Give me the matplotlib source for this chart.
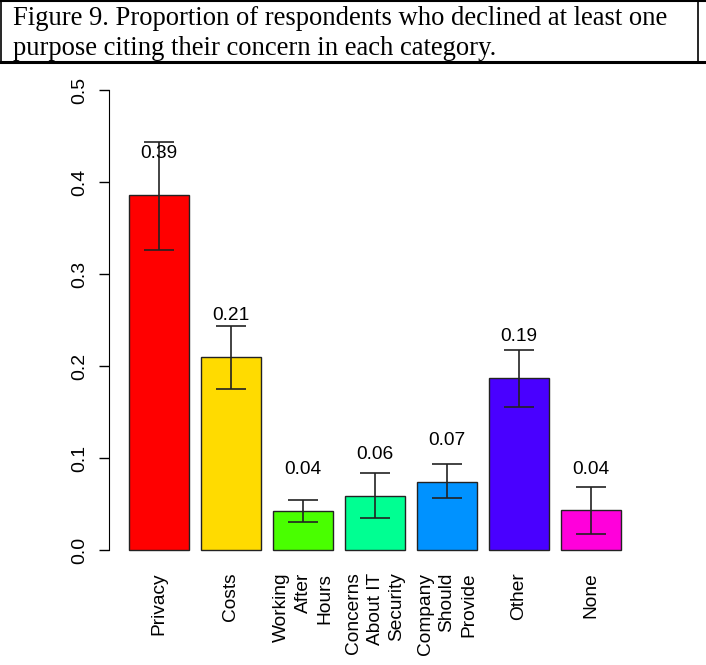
import numpy as np
import matplotlib.pyplot as plt
from matplotlib.lines import Line2D

# proportions and error bar limits per concern
categories = ["Privacy", "Costs", "Working\nAfter\nHours", "Concerns\nAbout IT\nSecurity",
              "Company\nShould\nProvide", "Other", "None"]
props = [0.386, 0.210, 0.042, 0.059, 0.074, 0.187, 0.043]
err_lo = [0.326, 0.175, 0.030, 0.035, 0.056, 0.155, 0.017]
err_hi = [0.444, 0.243, 0.054, 0.084, 0.094, 0.217, 0.068]
colors = ["#FF0000", "#FFDB00", "#49FF00", "#00FF92", "#0092FF", "#4900FF", "#FF00DB"]
title = ("Figure 9. Proportion of respondents who declined at least one\n"
         "purpose citing their concern in each category.")

W, H = 706, 665
fig = plt.figure(figsize=(W / 100, H / 100), dpi=100)

# caption box at the top
fig.text(13 / W, 1 - 33.5 / H, title, family="Liberation Serif", fontsize=19.2,
         va="center", ha="left", linespacing=1.28)
fig.add_artist(Line2D([0, 1], [1 - 1 / H, 1 - 1 / H], color="black", lw=1.5))
fig.add_artist(Line2D([0, 1], [1 - 62 / H, 1 - 62 / H], color="black", lw=2.2))
fig.add_artist(Line2D([0.7 / W, 0.7 / W], [1 - 62 / H, 1], color="black", lw=1.2))
fig.add_artist(Line2D([698 / W, 698 / W], [1 - 62 / H, 1], color="black", lw=1.2))

# plot region (R style barplot layout)
left, right, top, bottom = 109.3, 640.7, 71.6, 568.4
ax = fig.add_axes([left / W, 1 - bottom / H, (right - left) / W, (bottom - top) / H])

x = 0.7 + 1.2 * np.arange(len(props))
ax.bar(x, props, width=1.0, color=colors, edgecolor="#222222", linewidth=1.0)
ax.errorbar(x, props, yerr=[np.array(props) - err_lo, np.array(err_hi) - props],
            fmt="none", ecolor="#222222", elinewidth=1.2, capsize=11, capthick=1.2)
for xi, p in zip(x, props):
    ax.text(xi, p + 0.045, "%.2f" % p, ha="center", va="center",
            family="Liberation Sans", fontsize=13.8)

ax.set_xlim(-0.128, 8.728)
ax.set_ylim(-0.02, 0.52)
for s in ["top", "right", "bottom"]:
    ax.spines[s].set_visible(False)
ax.spines["left"].set_bounds(0, 0.5)
ax.set_yticks([0, 0.1, 0.2, 0.3, 0.4, 0.5])
ax.set_yticklabels(["0.0", "0.1", "0.2", "0.3", "0.4", "0.5"], rotation=90,
                   va="center", family="Liberation Sans", fontsize=14)
ax.tick_params(axis="y", length=7.5, width=1, pad=8)

ax.set_xticks(x)
ax.set_xticklabels(categories, rotation=90, family="Liberation Sans", fontsize=13.8,
                   ha="center", va="top", multialignment="right", linespacing=1.35)
ax.tick_params(axis="x", length=0, pad=3)

fig.savefig("out.png", dpi=100)
